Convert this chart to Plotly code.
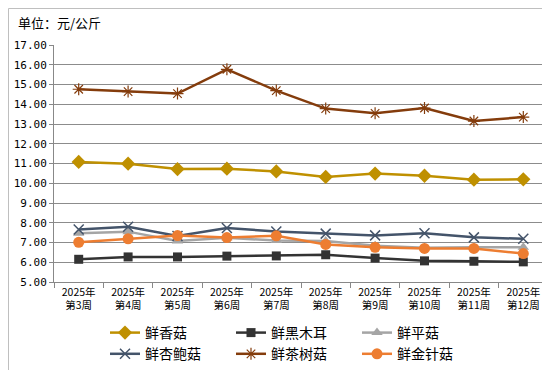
import plotly.graph_objects as go

categories = ["2025年<br>第3周", "2025年<br>第4周", "2025年<br>第5周", "2025年<br>第6周", "2025年<br>第7周",
              "2025年<br>第8周", "2025年<br>第9周", "2025年<br>第10周", "2025年<br>第11周", "2025年<br>第12周"]

xianggu = [11.08, 10.99, 10.72, 10.74, 10.60, 10.32, 10.49, 10.38, 10.18, 10.20]
heimuer = [6.15, 6.27, 6.27, 6.31, 6.32, 6.38, 6.21, 6.07, 6.05, 6.02]
pinggu = [7.47, 7.55, 7.08, 7.24, 7.10, 7.08, 6.83, 6.74, 6.76, 6.76]
xingbaogu = [7.66, 7.80, 7.33, 7.73, 7.56, 7.45, 7.36, 7.47, 7.26, 7.19]
chashugu = [14.76, 14.64, 14.54, 15.77, 14.69, 13.78, 13.54, 13.81, 13.15, 13.35]
jinzhengu = [7.01, 7.19, 7.35, 7.25, 7.34, 6.90, 6.76, 6.70, 6.70, 6.44]

y_ticks = [5, 6, 7, 8, 9, 10, 11, 12, 13, 14, 15, 16, 17]

series = [
    ("鲜香菇", xianggu, "#BF9000", "diamond", 11, None),
    ("鲜黑木耳", heimuer, "#333333", "square", 9, None),
    ("鲜平菇", pinggu, "#A5A5A5", "triangle-up", 10, None),
    ("鲜杏鲍菇", xingbaogu, "#44546A", "x-thin-open", 10, 1.5),
    ("鲜茶树菇", chashugu, "#843C0C", "asterisk-open", 10, 1.2),
    ("鲜金针菇", jinzhengu, "#ED7D31", "circle", 11, None),
]

FONT = "Noto Sans CJK SC"
fig = go.Figure()
for name, vals, color, sym, size, lw in series:
    marker = dict(symbol=sym, size=size, color=color)
    if lw:
        marker["line"] = dict(color=color, width=lw)
    fig.add_trace(go.Scatter(
        x=categories, y=vals, name=name, mode="lines+markers",
        line=dict(color=color, width=2.5), marker=marker,
    ))

L, R, T, B = 46, 10, 37, 96
W, H = 550, 370
pw, ph = W - L - R, H - T - B

fig.update_layout(
    width=W, height=H,
    margin=dict(l=L, r=R, t=T, b=B, autoexpand=False),
    paper_bgcolor="white", plot_bgcolor="white",
    font=dict(family=FONT, size=11, color="#000000"),
    showlegend=True,
    legend=dict(orientation="h", x=(97 - L) / pw, xanchor="left", y=-(309 - 274) / ph, yanchor="top",
                entrywidth=81, entrywidthmode="pixels", font=dict(size=14, family=FONT),
                itemwidth=30, tracegroupgap=0, bgcolor="rgba(0,0,0,0)"),
    xaxis=dict(type="category", showline=True, linecolor="#888888", linewidth=1,
               ticks="outside", ticklen=5, tickcolor="#888888", tickson="boundaries",
               showgrid=False, tickfont=dict(size=10.5, family=FONT), range=[-0.5, 9.5],
               automargin=False),
    yaxis=dict(range=[5, 17], tickvals=y_ticks, tickformat=".2f",
               showline=True, linecolor="#888888", linewidth=1,
               ticks="outside", ticklen=4, tickcolor="#888888",
               showgrid=True, gridcolor="#8C8C8C", gridwidth=1, zeroline=False,
               tickfont=dict(size=11, family="DejaVu Sans Mono"), automargin=False),
    annotations=[dict(text="单位：元/公斤", xref="paper", yref="paper",
                      x=-(L - 8) / pw, y=1 + (T - 14) / ph, xanchor="left", yanchor="middle",
                      showarrow=False, font=dict(size=13, family=FONT))],
    shapes=[dict(type="rect", xref="paper", yref="paper",
                 x0=-(L - 0.5) / pw, x1=1 + (R - 1.5) / pw,
                 y0=-(B - 1.5) / ph, y1=1 + (T - 0.5) / ph,
                 line=dict(color="#BFBFBF", width=1), layer="below")],
)

fig.write_html("out.html")
